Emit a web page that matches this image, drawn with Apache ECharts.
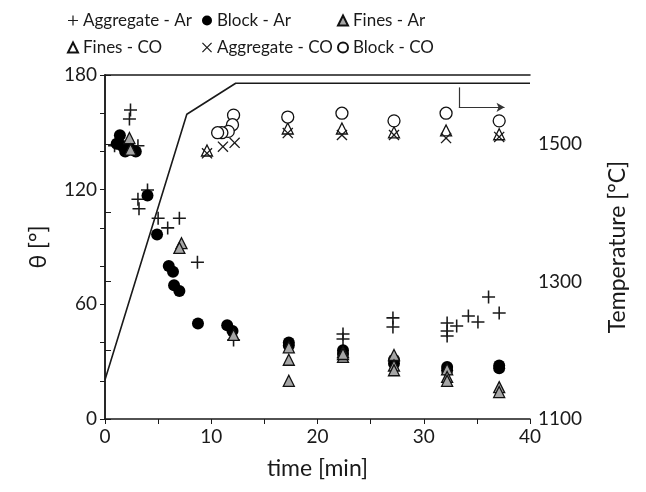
<!DOCTYPE html>
<html>
<head>
<meta charset="utf-8">
<script src="https://cdn.jsdelivr.net/npm/echarts@6/dist/echarts.min.js"></script>
<style>
html, body { margin: 0; padding: 0; background: #fff; }
#chart { width: 646px; height: 492px; }
</style>
</head>
<body>
<div id="chart"></div>
<script>
// [time (min), theta (deg)]
const aggregateAr = [
	[2.4, 161.7], [2.3, 157], [0.9, 143], [3.1, 143],
	[4.0, 119.8], [3.1, 115], [3.2, 110], [5.0, 105], [7.0, 105], [5.9, 100], [8.7, 82],
	[12.1, 41.3], [22.4, 44.5], [22.4, 41.9], [27.1, 52.9], [27.1, 48.1],
	[32.2, 50.2], [32.2, 46], [32.2, 43.4], [33.1, 48.7], [34.2, 53.9], [35.1, 50.8],
	[36.1, 63.8], [37.1, 55.5]
];
const blockAr = [
	[1.4, 148.5], [1.1, 144], [1.9, 140], [2.3, 142], [2.9, 140], [1.6, 143],
	[4.0, 117], [4.9, 96.5], [6.0, 80], [6.4, 77], [6.5, 70], [7.0, 67],
	[8.75, 50], [11.5, 49], [12.0, 46],
	[17.3, 40], [17.3, 38.5], [22.4, 36], [22.4, 34], [27.2, 31], [27.2, 29],
	[32.2, 27.2], [32.2, 25.5], [37.1, 28], [37.1, 26.5]
];
const finesAr = [
	[2.3, 147], [2.4, 141], [7.2, 92], [7.0, 89.5], [12.1, 44],
	[17.3, 37.5], [17.3, 31], [17.3, 20],
	[22.4, 35], [22.4, 32.5], [22.4, 34],
	[27.2, 33.5], [27.2, 28], [27.2, 25.5],
	[32.2, 26], [32.2, 22], [32.2, 20],
	[37.1, 16.7], [37.1, 14.1]
];
const finesCO = [
	[9.6, 140.5], [17.2, 152], [22.3, 152], [27.2, 150], [32.1, 151], [37.1, 149]
];
const aggregateCO = [
	[9.6, 139], [11.1, 142.5], [12.2, 144.5], [17.2, 149.6], [22.3, 148.6],
	[27.2, 148.6], [32.1, 147], [37.1, 147.6]
];
const blockCO = [
	[12.1, 159], [12.0, 154], [11.6, 150.5], [11.0, 149.8], [10.6, 149.8],
	[17.2, 158], [22.3, 160], [27.2, 156], [32.1, 160], [37.1, 156]
];
// [time (min), temperature (°C)]
const temperature = [[0, 1157], [7.7, 1543], [12.3, 1588], [40, 1588]];

const plusPath = 'path://M4.4,0h1.2v4.4h4.4v1.2h-4.4v4.4h-1.2v-4.4h-4.4v-1.2h4.4z';
const crossPath = 'path://M0.85,0L5,4.15L9.15,0L10,0.85L5.85,5L10,9.15L9.15,10L5,5.85L0.85,10L0,9.15L4.15,5L0,0.85z';

const FONT = 'Lato';
const ink = '#1a1a1a';

function scatter(name, data, symbol, size, fill, border) {
	return {
		name: name,
		type: 'scatter',
		data: data,
		symbol: symbol,
		symbolSize: size,
		itemStyle: {
			color: fill,
			borderColor: border || fill,
			borderWidth: border ? 1.3 : 0,
			opacity: 1
		}
	};
}

const chart = echarts.init(document.getElementById('chart'));

const legendBase = {
	orient: 'vertical',
	top: 7,
	itemGap: 10,
	itemWidth: 10,
	itemHeight: 10,
	textStyle: { fontFamily: FONT, fontSize: 17, color: ink }
};

chart.setOption({
	animation: false,
	backgroundColor: '#fff',
	textStyle: { fontFamily: FONT },
	legend: [
		Object.assign({ left: 62, data: ['Aggregate - Ar', 'Fines - CO'] }, legendBase),
		Object.assign({ left: 197, data: ['Block - Ar', 'Aggregate - CO'] }, legendBase),
		Object.assign({ left: 332, data: ['Fines - Ar', 'Block - CO'] }, legendBase)
	],
	grid: { left: 105, right: 116, top: 75, bottom: 73 },
	xAxis: [{
		type: 'value',
		min: 0, max: 40, interval: 5,
		name: 'time [min]',
		nameLocation: 'middle',
		nameGap: 38,
		nameTextStyle: { fontSize: 23, color: ink, fontFamily: FONT },
		axisLine: { lineStyle: { color: ink, width: 1.5 } },
		axisTick: { length: 5, lineStyle: { color: ink } },
		axisLabel: {
			fontSize: 19, color: ink, margin: 8,
			formatter: v => (v % 10 === 0 ? String(v) : '')
		},
		splitLine: { show: false }
	}, {
		type: 'value',
		position: 'top',
		min: 0, max: 40,
		axisLine: { show: true, onZero: false, lineStyle: { color: ink, width: 1.5 } },
		axisTick: { show: false },
		axisLabel: { show: false },
		splitLine: { show: false }
	}],
	yAxis: [{
		type: 'value',
		min: 0, max: 180, interval: 20,
		name: 'θ [°]',
		nameLocation: 'middle',
		nameGap: 55,
		nameTextStyle: { fontSize: 23, color: ink, fontFamily: FONT },
		axisLine: { show: true, lineStyle: { color: ink, width: 1.5 } },
		axisTick: { show: true, length: 5, lineStyle: { color: ink } },
		axisLabel: {
			fontSize: 19, color: ink, margin: 8,
			formatter: v => (v % 60 === 0 ? String(v) : '')
		},
		splitLine: { show: false }
	}, {
		type: 'value',
		min: 1100, max: 1600, interval: 100,
		position: 'right',
		name: 'Temperature [°C]',
		nameLocation: 'middle',
		nameGap: 76,
		nameTextStyle: { fontSize: 23, color: ink, fontFamily: FONT },
		axisLine: { show: true, lineStyle: { color: ink, width: 1.5 } },
		axisTick: { show: true, length: 6, lineStyle: { color: ink } },
		axisLabel: {
			fontSize: 19, color: ink, margin: 8,
			formatter: v => (v % 200 === 100 && v < 1600 ? String(v) : '')
		},
		splitLine: { show: false }
	}],
	series: [
		{
			name: 'Temperature',
			type: 'line',
			yAxisIndex: 1,
			data: temperature,
			showSymbol: false,
			symbol: 'none',
			lineStyle: { color: ink, width: 1.6 },
			z: 1,
			markLine: {
				silent: true,
				animation: false,
				symbolSize: [7, 8],
				label: { show: false },
				lineStyle: { color: '#333', width: 1.2, type: 'solid' },
				data: [
					[{ coord: [33.3, 1582], symbol: 'none' }, { coord: [33.3, 1553], symbol: 'none' }],
					[{ coord: [33.3, 1553], symbol: 'none' }, { coord: [37.6, 1553], symbol: 'arrow' }]
				]
			}
		},
		scatter('Aggregate - Ar', aggregateAr, plusPath, 13, ink),
		scatter('Block - Ar', blockAr, 'circle', 12, '#000'),
		scatter('Fines - Ar', finesAr, 'triangle', 11, '#a6a6a6', '#111'),
		scatter('Fines - CO', finesCO, 'triangle', 11, '#fff', '#111'),
		scatter('Aggregate - CO', aggregateCO, crossPath, 11, ink),
		scatter('Block - CO', blockCO, 'circle', 12, '#fff', '#111')
	]
});
</script>
</body>
</html>
